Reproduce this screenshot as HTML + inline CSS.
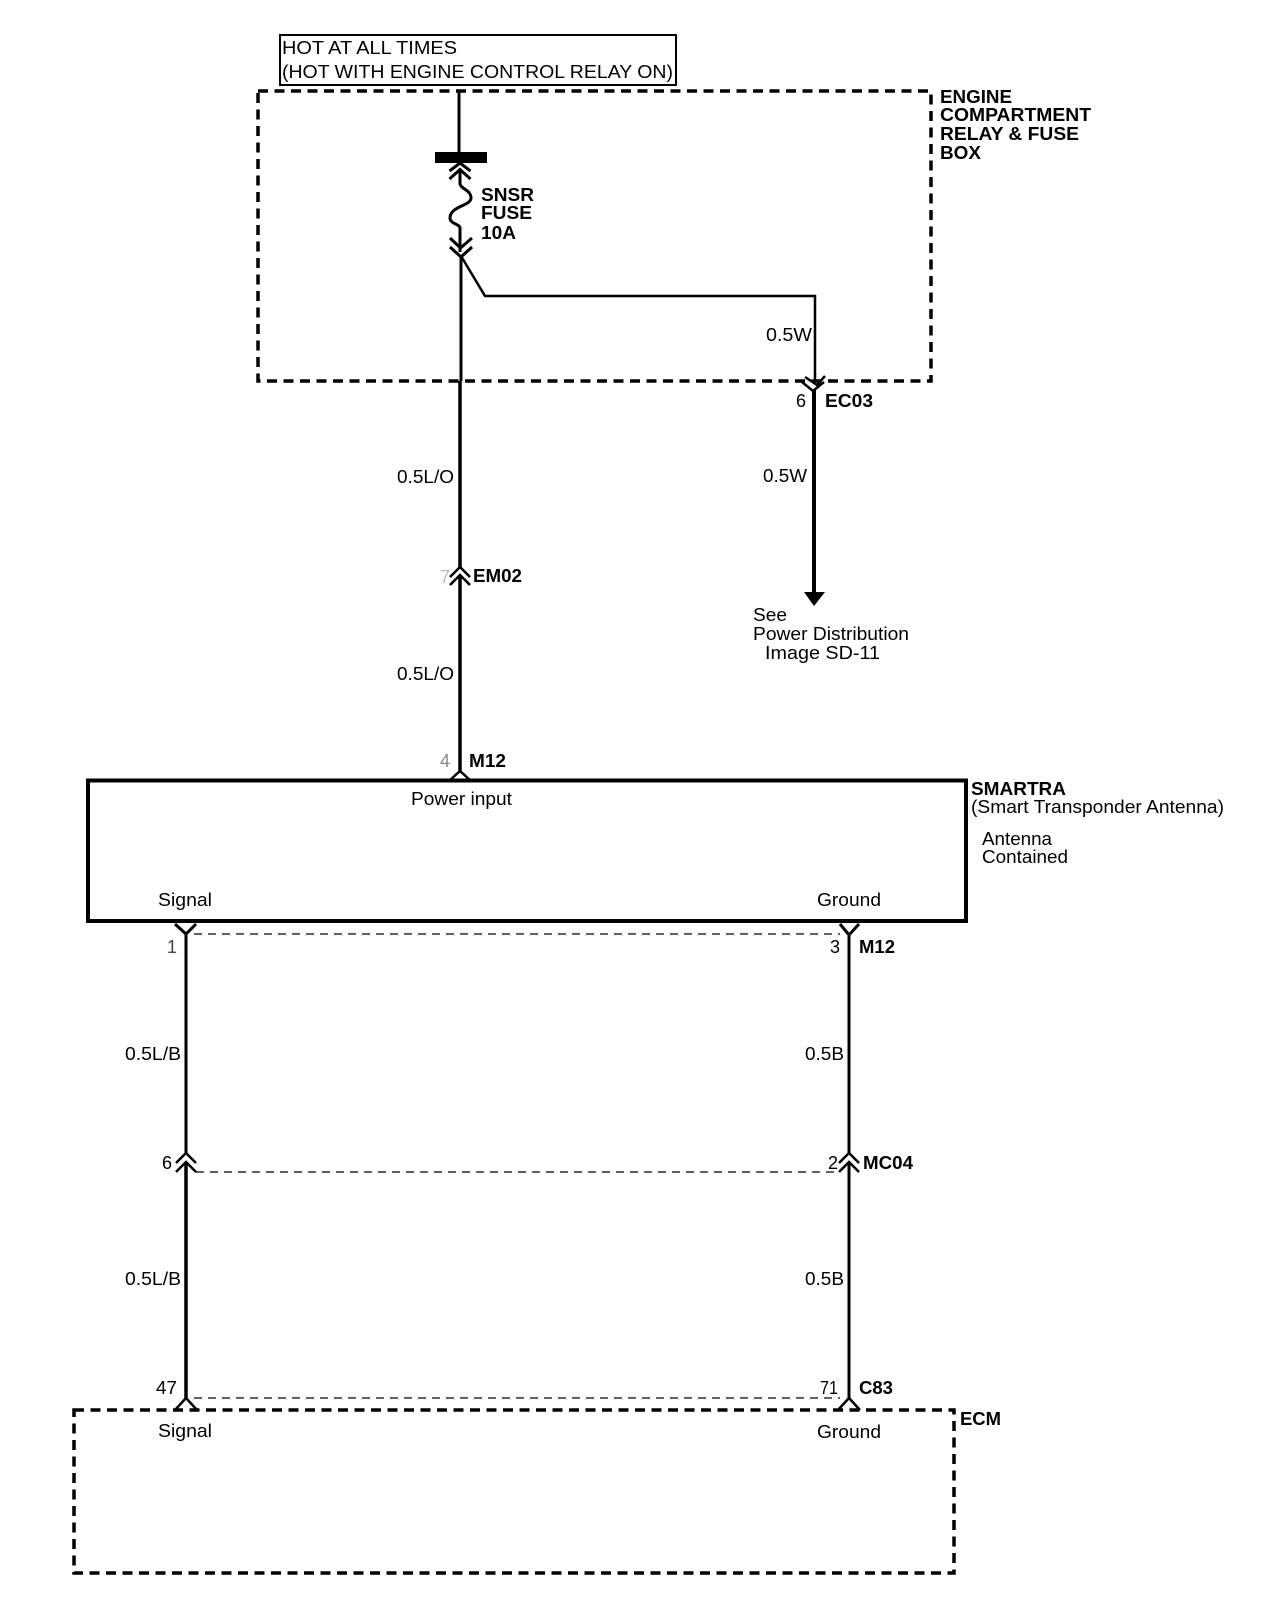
<!DOCTYPE html>
<html><head><meta charset="utf-8"><style>
html,body{margin:0;padding:0;background:#fff}
svg{display:block}
text{font-family:"Liberation Sans",sans-serif;font-size:18px;fill:#000}
.b{font-weight:bold}
</style></head><body>
<svg width="1280" height="1622" viewBox="0 0 1280 1622" xmlns="http://www.w3.org/2000/svg">
<rect width="1280" height="1622" fill="#fff"/>
<g fill="none" stroke="#000">
<rect x="280" y="35" width="396" height="50" stroke-width="2"/>
<rect x="258" y="91" width="673" height="290" stroke-width="3.5" stroke-dasharray="10 6.5"/>
<rect x="74" y="1410" width="880" height="163" stroke-width="3.5" stroke-dasharray="10 6.5"/>
<rect x="88" y="780.5" width="878" height="140.5" stroke-width="4"/>
<path d="M459 91V153" stroke-width="3"/>
<rect x="435" y="152" width="52" height="11" fill="#000" stroke="none"/>
<path d="M449.5 171L460 163L470.5 171M449.5 179L460 169.5L470.5 179" stroke-width="3"/>
<path d="M460 170V184C461 189 471 190 471 198C471 206 450 206 450 218C450 224 460 224 460 228V252" stroke-width="3"/>
<path d="M450 238L460.5 248L472 238M450 247L461 257L472 247" stroke-width="3"/>
<path d="M461 256V381" stroke-width="3"/>
<path d="M461 256L485 296H815V384" stroke-width="2.5"/>
<path d="M805 377L817 385L825 376M802 382L813 391L824 382" stroke-width="2.5"/>
<path d="M814 390V592" stroke-width="4"/>
<path d="M460 381V567" stroke-width="3.5"/>
<path d="M450 577L460 567L470 577M450 585L460 575L470 585" stroke-width="2.5"/>
<path d="M460 575V773" stroke-width="3.5"/>
<path d="M449 781L460 771L471 781" stroke-width="2.5"/>
<path d="M175 924L186 934L196 924M186 934V1153" stroke-width="3"/>
<path d="M176 1163L186 1153L196 1163M176 1172L186 1162L196 1172" stroke-width="2.5"/>
<path d="M186 1162V1398" stroke-width="3.5"/>
<path d="M175 1410L186 1398L197 1410" stroke-width="2.5"/>
<path d="M840 924L849 935L859 924M849 935V1153" stroke-width="3"/>
<path d="M839 1163L849 1153L859 1163M839 1172L849 1162L859 1172" stroke-width="2.5"/>
<path d="M849 1162V1398" stroke-width="3"/>
<path d="M838 1410L849 1398L860 1410" stroke-width="2.5"/>
<g stroke-width="1.3" stroke-dasharray="8 6">
<path d="M194 934H840"/>
<path d="M196 1172H839"/>
<path d="M194 1398H840"/>
</g>
</g>
<path d="M804 592H825L814 606Z" fill="#000"/>
<text x="282" y="54" textLength="175" lengthAdjust="spacingAndGlyphs">HOT AT ALL TIMES</text>
<text x="282" y="78" textLength="391" lengthAdjust="spacingAndGlyphs">(HOT WITH ENGINE CONTROL RELAY ON)</text>
<text class="b" x="481" y="201" textLength="53" lengthAdjust="spacingAndGlyphs">SNSR</text>
<text class="b" x="481" y="219" textLength="51" lengthAdjust="spacingAndGlyphs">FUSE</text>
<text class="b" x="481" y="239" textLength="35" lengthAdjust="spacingAndGlyphs">10A</text>
<text class="b" x="940" y="103" textLength="72" lengthAdjust="spacingAndGlyphs">ENGINE</text>
<text class="b" x="940" y="121" textLength="151" lengthAdjust="spacingAndGlyphs">COMPARTMENT</text>
<text class="b" x="940" y="140" textLength="139" lengthAdjust="spacingAndGlyphs">RELAY &amp; FUSE</text>
<text class="b" x="940" y="159" textLength="41" lengthAdjust="spacingAndGlyphs">BOX</text>
<text x="766" y="341" textLength="46" lengthAdjust="spacingAndGlyphs">0.5W</text>
<text x="763" y="482" textLength="44" lengthAdjust="spacingAndGlyphs">0.5W</text>
<text x="796" y="407">6</text>
<text class="b" x="825" y="407" textLength="48" lengthAdjust="spacingAndGlyphs">EC03</text>
<text x="397" y="483" textLength="57" lengthAdjust="spacingAndGlyphs">0.5L/O</text>
<text x="397" y="680" textLength="57" lengthAdjust="spacingAndGlyphs">0.5L/O</text>
<text x="440" y="583" style="fill:#bbb">7</text>
<text class="b" x="473" y="582" textLength="49" lengthAdjust="spacingAndGlyphs">EM02</text>
<text x="753" y="621" textLength="34" lengthAdjust="spacingAndGlyphs">See</text>
<text x="753" y="640" textLength="156" lengthAdjust="spacingAndGlyphs">Power Distribution</text>
<text x="765" y="659" textLength="115" lengthAdjust="spacingAndGlyphs">Image SD-11</text>
<text x="440" y="767" style="fill:#888">4</text>
<text class="b" x="469" y="767" textLength="37" lengthAdjust="spacingAndGlyphs">M12</text>
<text x="411" y="805" textLength="101" lengthAdjust="spacingAndGlyphs">Power input</text>
<text class="b" x="971" y="795" textLength="95" lengthAdjust="spacingAndGlyphs">SMARTRA</text>
<text x="971" y="813" textLength="253" lengthAdjust="spacingAndGlyphs">(Smart Transponder Antenna)</text>
<text x="982" y="845" textLength="70" lengthAdjust="spacingAndGlyphs">Antenna</text>
<text x="982" y="863" textLength="86" lengthAdjust="spacingAndGlyphs">Contained</text>
<text x="158" y="906" textLength="54" lengthAdjust="spacingAndGlyphs">Signal</text>
<text x="817" y="906" textLength="64" lengthAdjust="spacingAndGlyphs">Ground</text>
<text x="167" y="953" style="fill:#444">1</text>
<text x="830" y="953">3</text>
<text class="b" x="859" y="953" textLength="36" lengthAdjust="spacingAndGlyphs">M12</text>
<text x="125" y="1060" textLength="56" lengthAdjust="spacingAndGlyphs">0.5L/B</text>
<text x="805" y="1060" textLength="39" lengthAdjust="spacingAndGlyphs">0.5B</text>
<text x="162" y="1169">6</text>
<text x="828" y="1169">2</text>
<text class="b" x="863" y="1169" textLength="50" lengthAdjust="spacingAndGlyphs">MC04</text>
<text x="125" y="1285" textLength="56" lengthAdjust="spacingAndGlyphs">0.5L/B</text>
<text x="805" y="1285" textLength="39" lengthAdjust="spacingAndGlyphs">0.5B</text>
<text x="156" y="1394" textLength="21" lengthAdjust="spacingAndGlyphs">47</text>
<text x="820" y="1394" textLength="18" lengthAdjust="spacingAndGlyphs">71</text>
<text class="b" x="859" y="1394" textLength="34" lengthAdjust="spacingAndGlyphs">C83</text>
<text class="b" x="960" y="1425" textLength="41" lengthAdjust="spacingAndGlyphs">ECM</text>
<text x="158" y="1437" textLength="54" lengthAdjust="spacingAndGlyphs">Signal</text>
<text x="817" y="1438" textLength="64" lengthAdjust="spacingAndGlyphs">Ground</text>
</svg>
</body></html>
